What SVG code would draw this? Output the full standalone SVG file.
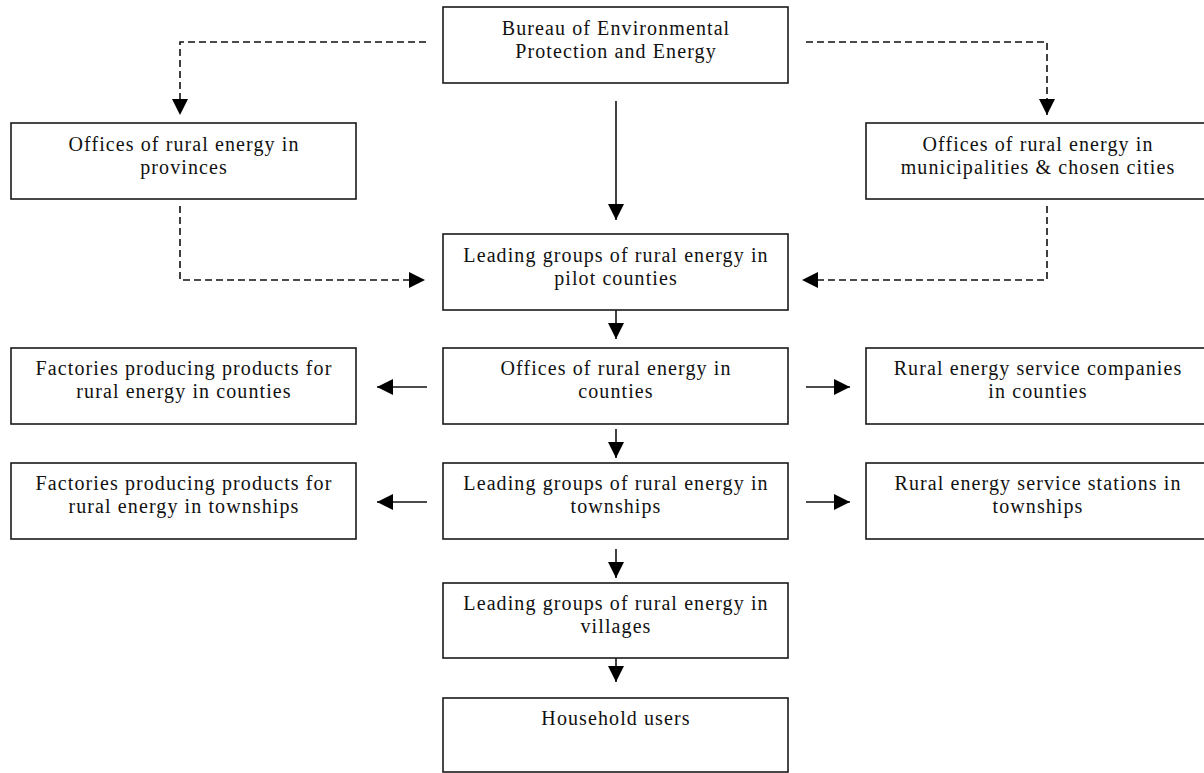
<svg xmlns="http://www.w3.org/2000/svg" width="1204" height="773" viewBox="0 0 1204 773">
<style>
.box{fill:#fff;stroke:#1a1a1a;stroke-width:1.6}
.t{font-family:"Liberation Serif","Times New Roman",serif;font-size:20px;letter-spacing:1.1px;fill:#111;text-anchor:middle}
.c{fill:none;stroke:#111;stroke-width:1.6}
.d{stroke-dasharray:7 4}
</style>
<defs>
<marker id="ah" markerUnits="userSpaceOnUse" markerWidth="17" markerHeight="16" refX="16" refY="8" orient="auto">
<path d="M0,0 L16,8 L0,16 z" fill="#000"/>
</marker>
</defs>
<rect width="1204" height="773" fill="#fff"/>
<g id="connectors">
<path class="c d" d="M426,42 H180 V115" marker-end="url(#ah)"/>
<path class="c d" d="M806,42 H1047 V115" marker-end="url(#ah)"/>
<path class="c" d="M616,101 V220" marker-end="url(#ah)"/>
<path class="c d" d="M180,206 V280 H425" marker-end="url(#ah)"/>
<path class="c d" d="M1047,206 V280 H802" marker-end="url(#ah)"/>
<path class="c" d="M616,310 V339" marker-end="url(#ah)"/>
<path class="c" d="M427,387 H377" marker-end="url(#ah)"/>
<path class="c" d="M806,387 H850" marker-end="url(#ah)"/>
<path class="c" d="M616,429 V458" marker-end="url(#ah)"/>
<path class="c" d="M427,502 H377" marker-end="url(#ah)"/>
<path class="c" d="M806,502 H850" marker-end="url(#ah)"/>
<path class="c" d="M616,549 V578" marker-end="url(#ah)"/>
<path class="c" d="M616,658 V682" marker-end="url(#ah)"/>
</g>
<g id="bureau"><rect class="box" x="443" y="7" width="345" height="76"/>
<text class="t" x="616" y="35">Bureau of Environmental</text><text class="t" x="616" y="58">Protection and Energy</text></g>
<g id="provinces"><rect class="box" x="11" y="123" width="345" height="76"/>
<text class="t" x="184" y="151">Offices of rural energy in</text><text class="t" x="184" y="174">provinces</text></g>
<g id="municipalities"><rect class="box" x="866" y="123" width="345" height="76"/>
<text class="t" x="1038" y="151">Offices of rural energy in</text><text class="t" x="1038" y="174">municipalities &amp; chosen cities</text></g>
<g id="pilot"><rect class="box" x="443" y="234" width="345" height="76"/>
<text class="t" x="616" y="262">Leading groups of rural energy in</text><text class="t" x="616" y="285">pilot counties</text></g>
<g id="factories-counties"><rect class="box" x="11" y="348" width="345" height="76"/>
<text class="t" x="184" y="375">Factories producing products for</text><text class="t" x="184" y="398">rural energy in counties</text></g>
<g id="offices-counties"><rect class="box" x="443" y="348" width="345" height="76"/>
<text class="t" x="616" y="375">Offices of rural energy in</text><text class="t" x="616" y="398">counties</text></g>
<g id="service-companies"><rect class="box" x="866" y="348" width="345" height="76"/>
<text class="t" x="1038" y="375">Rural energy service companies</text><text class="t" x="1038" y="398">in counties</text></g>
<g id="factories-townships"><rect class="box" x="11" y="463" width="345" height="76"/>
<text class="t" x="184" y="490">Factories producing products for</text><text class="t" x="184" y="513">rural energy in townships</text></g>
<g id="groups-townships"><rect class="box" x="443" y="463" width="345" height="76"/>
<text class="t" x="616" y="490">Leading groups of rural energy in</text><text class="t" x="616" y="513">townships</text></g>
<g id="service-stations"><rect class="box" x="866" y="463" width="345" height="76"/>
<text class="t" x="1038" y="490">Rural energy service stations in</text><text class="t" x="1038" y="513">townships</text></g>
<g id="villages"><rect class="box" x="443" y="583" width="345" height="75"/>
<text class="t" x="616" y="610">Leading groups of rural energy in</text><text class="t" x="616" y="633">villages</text></g>
<g id="household"><rect class="box" x="443" y="698" width="345" height="74"/>
<text class="t" x="616" y="725">Household users</text></g>
</svg>
